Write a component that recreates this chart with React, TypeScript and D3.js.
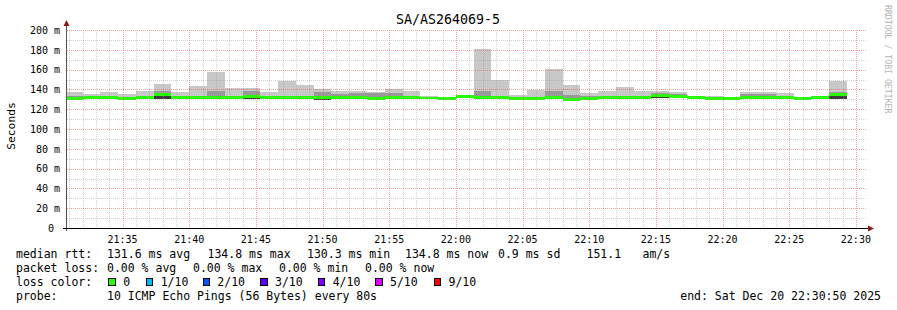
import React from 'react';
import * as d3 from 'd3';

// ---- data ----
const TITLE = 'SA/AS264069-5';
const START = new Date(2025, 11, 20, 21, 30, 50);
const END = new Date(2025, 11, 20, 22, 30, 50);
const FIRST_STEP = new Date(2025, 11, 20, 21, 30, 40);
const STEP_SECONDS = 80;

// median rtt per 80 s step (ms)
const medianRtt = [130.4, 131.4, 131.4, 131.1, 131.9, 134.6, 131.6, 131.4, 131.4, 131.4, 133.2, 131.4, 131.4, 131.4, 131.6, 132.0, 132.2, 130.4, 132.2, 131.6, 131.3, 130.9, 132.5, 132.2, 131.6, 131.0, 131.0, 132.0, 130.0, 131.0, 132.0, 131.6, 131.9, 133.5, 132.6, 131.6, 131.1, 131.0, 131.9, 131.6, 131.6, 131.1, 131.6, 135.2];
// highest ping per step (ms)
const maxRtt = [137.0, 135.3, 137.0, 135.0, 138.7, 145.0, 137.0, 143.7, 157.2, 141.7, 141.7, 137.0, 148.1, 144.8, 140.0, 138.7, 138.7, 137.3, 140.7, 138.0, 133.6, 130.9, 134.0, 181.1, 150.0, 134.6, 139.0, 161.0, 144.7, 136.0, 138.0, 142.7, 138.0, 138.7, 137.0, 133.6, 133.6, 131.0, 137.7, 137.7, 136.7, 132.6, 133.3, 148.8];
// upper inner smoke (ms)
const upperRtt = [133.3, 133.5, 131.4, 131.1, 133.5, 138.0, 133.2, 133.0, 138.0, 133.5, 138.5, 131.4, 132.5, 132.5, 137.0, 135.0, 136.5, 136.0, 136.0, 132.5, 131.3, 130.9, 132.5, 138.0, 133.3, 131.0, 131.0, 138.0, 134.5, 133.5, 132.0, 132.5, 132.0, 136.5, 135.0, 131.6, 131.1, 131.0, 135.5, 135.0, 131.6, 131.1, 133.0, 137.5];
// lowest ping per step (ms)
const lowerRtt = [129.5, 130.0, 130.0, 130.0, 129.8, 130.0, 130.5, 130.5, 130.5, 130.5, 130.5, 130.5, 130.5, 130.5, 129.5, 130.0, 130.5, 129.5, 130.5, 130.5, 130.5, 130.5, 131.0, 131.0, 130.5, 130.5, 130.5, 130.0, 129.0, 130.0, 129.8, 130.5, 130.0, 131.0, 131.0, 130.5, 130.5, 130.5, 130.0, 130.0, 130.5, 130.5, 130.5, 130.0];

const yTicks = [0, 20, 40, 60, 80, 100, 120, 140, 160, 180, 200];
const yTickLabels = ['0\u00a0', '20 m', '40 m', '60 m', '80 m', '100 m', '120 m', '140 m', '160 m', '180 m', '200 m'];

const legendRtt = [
  { x: 16, t: 'median rtt:' },
  { x: 107, t: '131.6 ms avg' },
  { x: 207.5, t: '134.8 ms max' },
  { x: 307, t: '130.3 ms min' },
  { x: 405, t: '134.8 ms now' },
  { x: 498, t: '0.9 ms sd' },
  { x: 586.5, t: '151.1' },
  { x: 642.5, t: 'am/s' },
];
const legendLoss = [
  { x: 16, t: 'packet loss:' },
  { x: 107, t: '0.00 % avg' },
  { x: 193, t: '0.00 % max' },
  { x: 279, t: '0.00 % min' },
  { x: 365, t: '0.00 % now' },
];
const lossLabels = ['0', '1/10', '2/10', '3/10', '4/10', '5/10', '9/10'];
const lossColors = ['#26ff00', '#00b8ff', '#0059ff', '#5e00ff', '#7e00ff', '#dd00ff', '#ff0000'];
const lossBoxX = [109, 146.5, 203.5, 261, 318.5, 376, 434.5];
const lossTextX = [123.3, 160.7, 217.3, 275, 332.7, 390, 448.5];
const probeText = '10 ICMP Echo Pings (56 Bytes) every 80s';
const endText = 'end: Sat Dec 20 22:30:50 2025';

const FONT = "'DejaVu Sans Mono', monospace";

export default function App() {
  const W = 897, H = 310;
  const left = 67, right = 867, top = 30, bottom = 228;
  const x = d3.scaleTime().domain([START, END]).range([left, right]);
  const y = d3.scaleLinear().domain([0, 200]).range([bottom, top]);

  const steps = medianRtt.map((m, i) => {
    const t0 = new Date(FIRST_STEP.getTime() + i * STEP_SECONDS * 1000);
    const t1 = new Date(t0.getTime() + STEP_SECONDS * 1000);
    const x0 = Math.max(x(t0), left);
    const x1 = Math.min(x(t1), right);
    return { x0, x1, m, max: maxRtt[i], up: upperRtt[i], lo: lowerRtt[i] };
  });

  const minorX = d3.timeMinute.every(1)!.range(START, END).filter(d => d.getMinutes() % 5 !== 0);
  const majorX = d3.timeMinute.every(5)!.range(START, END);
  const minorY = d3.range(10, 200, 20);
  const fmt = d3.timeFormat('%H:%M');

  const band = (x0: number, x1: number, a: number, b: number, fill: string, key: string) => {
    const ya = y(Math.max(a, b)), yb = y(Math.min(a, b));
    if (yb - ya <= 0) return null;
    return <rect key={key} x={x0} y={ya} width={x1 - x0} height={yb - ya} fill={fill} />;
  };

  const minorColor = 'rgba(150,150,150,0.45)';
  const majorColor = 'rgba(240,70,70,0.5)';

  return (
    <svg width={W} height={H} style={{ position: 'absolute', left: 0, top: 0, display: 'block', background: '#fff' }} fontFamily={FONT}>
      <rect x={0} y={0} width={W} height={H} fill="#fff" />
      {/* title */}
      <text x={448} y={24} textAnchor="middle" fontSize={13.3} fill="#000">{TITLE}</text>
      {/* y label */}
      <text transform="translate(14.5,126) rotate(-90)" textAnchor="middle" fontSize={11.3} fill="#000">Seconds</text>
      {/* watermark */}
      <text transform="translate(885,5) rotate(90)" fontSize={8.2} fill="#b4b4b4">RRDTOOL / TOBI OETIKER</text>

      {/* smoke */}
      <g shapeRendering="crispEdges">
        {steps.map((s, i) => (
          <g key={i}>
            {band(s.x0, s.x1, s.lo, s.max, '#c8c8c8', 'l')}
            {band(s.x0, s.x1, s.m, s.up, '#999999', 'u')}
            {band(s.x0, s.x1, s.lo, s.m, '#3c3c3c', 'd')}
            {band(s.x0, s.x1, s.m - 1.5, s.m + 1.5, lossColors[0], 'g')}
          </g>
        ))}
      </g>

      {/* grid */}
      <g shapeRendering="crispEdges" strokeWidth={1} strokeDasharray="1,1">
        {minorY.map(v => (
          <line key={'my' + v} x1={left} x2={right} y1={Math.round(y(v)) + 0.5} y2={Math.round(y(v)) + 0.5} stroke={minorColor} />
        ))}
        {minorX.map(d => (
          <line key={'mx' + d.getTime()} x1={Math.round(x(d)) + 0.5} x2={Math.round(x(d)) + 0.5} y1={top} y2={bottom} stroke={minorColor} />
        ))}
        {yTicks.filter(v => v > 0).map(v => (
          <line key={'Y' + v} x1={left} x2={right} y1={Math.round(y(v)) + 0.5} y2={Math.round(y(v)) + 0.5} stroke={majorColor} />
        ))}
        {majorX.map(d => (
          <line key={'X' + d.getTime()} x1={Math.round(x(d)) + 0.5} x2={Math.round(x(d)) + 0.5} y1={top} y2={bottom} stroke={majorColor} />
        ))}
      </g>

      {/* axes */}
      <g shapeRendering="crispEdges">
        <line x1={left - 0.5} x2={left - 0.5} y1={22} y2={bottom + 3} stroke="#555" />
        <line x1={63} x2={871} y1={bottom + 0.5} y2={bottom + 0.5} stroke="#000" />
      </g>
      <path d={`M${left - 3.5},26 L${left + 2.5},26 L${left - 0.5},20 Z`} fill="#8b1a1a" />
      <path d={`M868,${bottom - 2.5} L868,${bottom + 3.5} L874,${bottom + 0.5} Z`} fill="#8b1a1a" />

      {/* y tick labels */}
      {yTicks.map((v, i) => (
        <text key={'yt' + v} x={60} y={y(v) + 3.7} textAnchor="end" fontSize={10} fill="#000" style={{ whiteSpace: 'pre' }}>{yTickLabels[i]}</text>
      ))}
      {/* x tick labels */}
      {majorX.map(d => (
        <text key={'xt' + d.getTime()} x={x(d)} y={243} textAnchor="middle" fontSize={10} fill="#000">{fmt(d)}</text>
      ))}

      {/* legend */}
      <g fontSize={11.5} fill="#000">
        {legendRtt.map(l => <text key={'r' + l.x} x={l.x} y={258}>{l.t}</text>)}
        {legendLoss.map(l => <text key={'p' + l.x} x={l.x} y={272}>{l.t}</text>)}
        <text x={16} y={286}>loss color:</text>
        {lossLabels.map((lab, i) => (
          <g key={'lc' + i}>
            <rect x={lossBoxX[i] - 0.5} y={278.5} width={6.5} height={6.5} fill={lossColors[i]} stroke="#000" strokeWidth={1} shapeRendering="crispEdges" />
            <text x={lossTextX[i]} y={286}>{lab}</text>
          </g>
        ))}
        <text x={16} y={300}>probe:</text>
        <text x={107} y={300}>{probeText}</text>
        <text x={881} y={300} textAnchor="end">{endText}</text>
      </g>
    </svg>
  );
}
